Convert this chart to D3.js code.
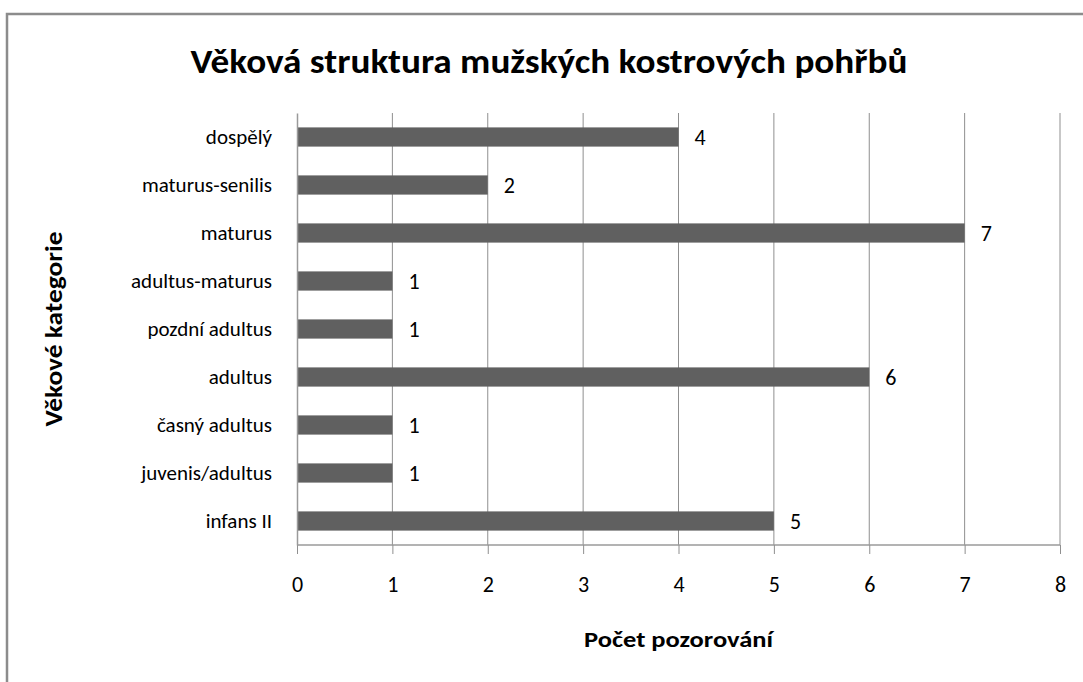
<!DOCTYPE html>
<html>
<head>
<meta charset="utf-8">
<script src="https://cdn.jsdelivr.net/npm/d3@7"></script>
<style>
  body { margin: 0; background: #fff; }
  svg text { font-family: Carlito, Calibri, Lato, sans-serif; fill: #000; }
</style>
</head>
<body>
<div id="chart"></div>
<script>
// data
var categories = ["dospělý", "maturus-senilis", "maturus", "adultus-maturus", "pozdní adultus",
  "adultus", "časný adultus", "juvenis/adultus", "infans II"];
var counts = [4, 2, 7, 1, 1, 6, 1, 1, 5];
var xTicks = [0, 1, 2, 3, 4, 5, 6, 7, 8];

var svgWidth = 1083;
var svgHeight = 682;

// plot area
var margin = { top: 113, right: 23, bottom: 137, left: 297 };
var width = svgWidth - margin.left - margin.right;
var height = svgHeight - margin.top - margin.bottom;

var svg = d3.select("#chart")
  .append("svg")
  .attr("width", svgWidth)
  .attr("height", svgHeight);

// outer chart border (cropped at right/bottom)
svg.append("rect")
  .attr("x", 7)
  .attr("y", 14)
  .attr("width", 1090)
  .attr("height", 700)
  .attr("fill", "#fff")
  .attr("stroke", "#8c8c8c")
  .attr("stroke-width", 2.5);

var chartGroup = svg.append("g")
  .attr("transform", `translate(${margin.left}, ${margin.top})`);

var xScale = d3.scaleLinear().domain([0, 8]).range([0, width]);
var yScale = d3.scaleBand().domain(categories).range([0, height]).paddingInner(0.6).paddingOuter(0.3);

// vertical gridlines
chartGroup.selectAll(".grid")
  .data(xTicks.slice(1))
  .enter()
  .append("line")
  .attr("x1", d => xScale(d))
  .attr("x2", d => xScale(d))
  .attr("y1", 0)
  .attr("y2", height)
  .attr("stroke", "#8f8f8f")
  .attr("stroke-width", 1);

// bars
chartGroup.selectAll("rect.bar")
  .data(counts)
  .enter()
  .append("rect")
  .classed("bar", true)
  .attr("x", 0)
  .attr("y", (d, i) => yScale(categories[i]))
  .attr("width", d => xScale(d))
  .attr("height", yScale.bandwidth())
  .attr("fill", "#606060");

// value labels
chartGroup.selectAll("text.val")
  .data(counts)
  .enter()
  .append("text")
  .classed("val", true)
  .attr("x", d => xScale(d) + 16)
  .attr("y", (d, i) => yScale(categories[i]) + yScale.bandwidth() / 2)
  .attr("dy", "0.36em")
  .attr("font-size", "22px")
  .text(d => d);

// x axis
var bottomAxis = d3.axisBottom(xScale).tickValues(xTicks).tickSize(9).tickPadding(22);
var xAxis = chartGroup.append("g")
  .attr("transform", `translate(0, ${height})`)
  .call(bottomAxis);
xAxis.select(".domain").attr("stroke", "#9a9a9a").attr("stroke-width", 1.5).attr("d", `M0,0H${width}`);
xAxis.selectAll(".tick line").attr("stroke", "#8f8f8f");
xAxis.selectAll("text").attr("font-size", "22px").attr("fill", "#000");

// y axis
var leftAxis = d3.axisLeft(yScale).tickSize(0).tickPadding(25);
var yAxis = chartGroup.append("g").call(leftAxis);
yAxis.select(".domain").attr("stroke", "#9a9a9a").attr("stroke-width", 1.5);
yAxis.selectAll("text").attr("font-size", "21px").attr("fill", "#000");

// title
svg.append("text")
  .attr("x", 549)
  .attr("y", 73)
  .attr("text-anchor", "middle")
  .attr("font-size", "35px")
  .attr("font-weight", "bold")
  .attr("textLength", 717)
  .attr("lengthAdjust", "spacingAndGlyphs")
  .text("Věková struktura mužských kostrových pohřbů");

// axis titles
svg.append("text")
  .attr("x", margin.left + width / 2)
  .attr("y", 647)
  .attr("text-anchor", "middle")
  .attr("font-size", "22px")
  .attr("font-weight", "bold")
  .attr("textLength", 189)
  .attr("lengthAdjust", "spacingAndGlyphs")
  .text("Počet pozorování");

svg.append("text")
  .attr("transform", `translate(62, ${margin.top + height / 2}) rotate(-90)`)
  .attr("text-anchor", "middle")
  .attr("font-size", "24px")
  .attr("font-weight", "bold")
  .attr("textLength", 195)
  .attr("lengthAdjust", "spacingAndGlyphs")
  .text("Věkové kategorie");
</script>
</body>
</html>
